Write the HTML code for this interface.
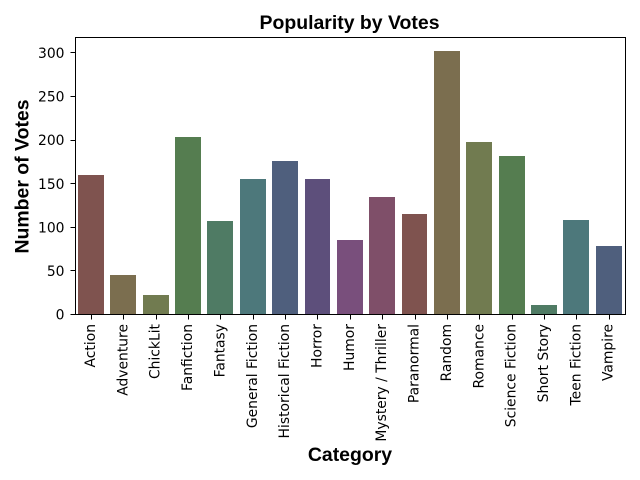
<!DOCTYPE html>
<html>
<head>
<meta charset="utf-8">
<title>Popularity by Votes</title>
<style>
html,body{margin:0;padding:0;background:#fff;}
svg{display:block;}
.tick{font-family:"DejaVu Sans",sans-serif;font-size:13.89px;fill:#000;}
.lab{font-family:"Liberation Sans",sans-serif;font-weight:bold;fill:#000;}
</style>
</head>
<body>
<svg id="chart" width="640" height="480" viewBox="0 0 640 480" xmlns="http://www.w3.org/2000/svg">
<rect x="0" y="0" width="640" height="480" fill="#fff"></rect>
<text class="lab" x="349.5" y="29" font-size="19.44px" text-anchor="middle">Popularity by Votes</text>
<text class="lab" x="350" y="461" font-size="19.44px" text-anchor="middle">Category</text>
<text class="lab" transform="translate(28.5 176.5) rotate(-90)" font-size="19.44px" text-anchor="middle">Number of Votes</text>
<g id="bars"></g>
<g id="yticks"></g>
<g id="xticks"></g>
<rect x="75.5" y="37.5" width="550" height="277" fill="none" stroke="#000" stroke-width="1" shape-rendering="crispEdges"></rect>
</svg>
<script>
const categories = ["Action","Adventure","ChickLit","Fanfiction","Fantasy","General Fiction","Historical Fiction","Horror","Humor","Mystery / Thriller","Paranormal","Random","Romance","Science Fiction","Short Story","Teen Fiction","Vampire"];
const votes = [160,45,22,203,107,155,176,155,85,135,115,302,198,182,11,108,78];
const yTickLabels = [0,50,100,150,200,250,300];
const palette = ["#7f534f","#7b6e4f","#717b50","#557d50","#4f7b64","#4d787b","#4f5f7d","#5d4f7b","#794f7c","#7f4f69"];

const NS = "http://www.w3.org/2000/svg";
const plot = {left:74.85, right:624.85, top:37.5, bottom:314.5};
const yPerUnit = 0.8725;
const bandWidth = (plot.right - plot.left) / categories.length;
function xScale(i){ return plot.left + (i + 0.5) * bandWidth; }
function yScale(v){ return plot.bottom - v * yPerUnit; }

const barsGroup = document.getElementById("bars");
const xGroup = document.getElementById("xticks");
const yGroup = document.getElementById("yticks");

votes.forEach(function(v, i){
  const w = bandWidth * 0.8;
  const x0 = Math.round(xScale(i) - w / 2);
  const x1 = Math.round(xScale(i) + w / 2);
  const top = Math.round(yScale(v));
  const r = document.createElementNS(NS, "rect");
  r.setAttribute("x", x0);
  r.setAttribute("y", top);
  r.setAttribute("width", x1 - x0);
  r.setAttribute("height", 314 - top);
  r.setAttribute("fill", palette[i % palette.length]);
  r.setAttribute("shape-rendering", "crispEdges");
  
  
  barsGroup.appendChild(r);
});

categories.forEach(function(c, i){
  const x = xScale(i);
  const tick = document.createElementNS(NS, "line");
  tick.setAttribute("x1", Math.round(x) + 0.5);
  tick.setAttribute("x2", Math.round(x) + 0.5);
  tick.setAttribute("y1", plot.bottom);
  tick.setAttribute("y2", plot.bottom + 5);
  tick.setAttribute("stroke", "#000");
  tick.setAttribute("stroke-width", "1");
  tick.setAttribute("shape-rendering", "crispEdges");
  
  
  xGroup.appendChild(tick);
  const t = document.createElementNS(NS, "text");
  t.setAttribute("class", "tick");
  t.setAttribute("transform", "translate(" + (x + 4) + " " + (plot.bottom + 9.5) + ") rotate(-90)");
  t.setAttribute("text-anchor", "end");
  t.textContent = c;
  
  
  xGroup.appendChild(t);
});

yTickLabels.forEach(function(v){
  const y = yScale(v);
  const row = Math.floor(y) + 0.5;
  const tick = document.createElementNS(NS, "line");
  tick.setAttribute("x1", 70.5);
  tick.setAttribute("x2", 75.5);
  tick.setAttribute("y1", row);
  tick.setAttribute("y2", row);
  tick.setAttribute("stroke", "#000");
  tick.setAttribute("stroke-width", "1");
  tick.setAttribute("shape-rendering", "crispEdges");
  
  
  yGroup.appendChild(tick);
  const t = document.createElementNS(NS, "text");
  t.setAttribute("class", "tick");
  t.setAttribute("x", 64.5);
  t.setAttribute("y", y + 5.2);
  t.setAttribute("text-anchor", "end");
  t.textContent = v;
  
  
  yGroup.appendChild(t);
});
</script>
</body>
</html>
